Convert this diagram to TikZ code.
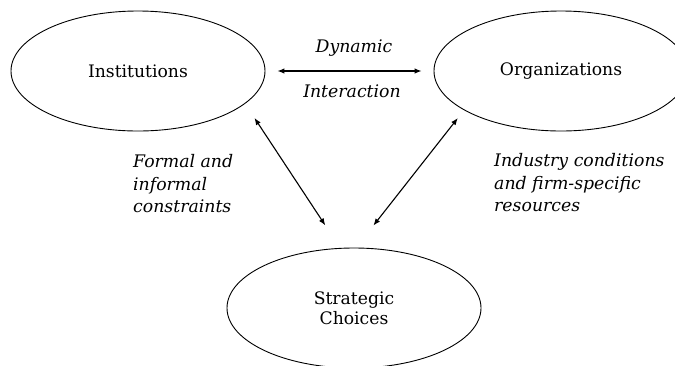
\documentclass[tikz,border=0pt]{standalone}
\usepackage{fontspec}
\setmainfont{DejaVu Serif}
\usetikzlibrary{arrows.meta,shapes.geometric}

\begin{document}
\begin{tikzpicture}[x=1pt,y=-1pt,>={Latex[length=7pt,width=5.5pt]},
    actor/.style={ellipse,draw,line width=0.9pt,minimum width=254pt,minimum height=120pt,
        inner sep=0pt,align=center,font=\fontsize{17.2}{20}\selectfont},
    link/.style={<->,line width=1.1pt},
    note/.style={inner sep=0pt,align=left,font=\fontsize{17.3}{22.5}\selectfont\itshape}]

    \useasboundingbox (0,0) rectangle (675,365);
    \clip (0,0) rectangle (675,365);

    % The three actors
    \node [actor] (inst) at (138,71) {Institutions};
    \node [actor] (org) at (561,71) {Organizations};
    \node [actor] (choice) at (354,308) {Strategic\\Choices};

    % Dynamic interaction
    \draw [link,shorten <=12pt,shorten >=12pt] (inst.0) -- (org.180);
    \node [note,anchor=base] (dyn) at (354,52) {Dynamic};
    \node [note,anchor=base] (inter) at (352,97) {Interaction};

    % Links to strategic choices
    \draw [link,shorten <=17pt,shorten >=27pt] (inst.-17) -- (choice.103.5);
    \draw [link,shorten <=10pt,shorten >=28pt] (org.-158) -- (choice.88);

    % Side notes
    \node [note,anchor=west] (formal) at (133,184) {Formal and\\informal\\constraints};
    \node [note,anchor=west] (industry) at (494,183) {Industry conditions\\and firm-specific\\resources};

\end{tikzpicture}
\end{document}
